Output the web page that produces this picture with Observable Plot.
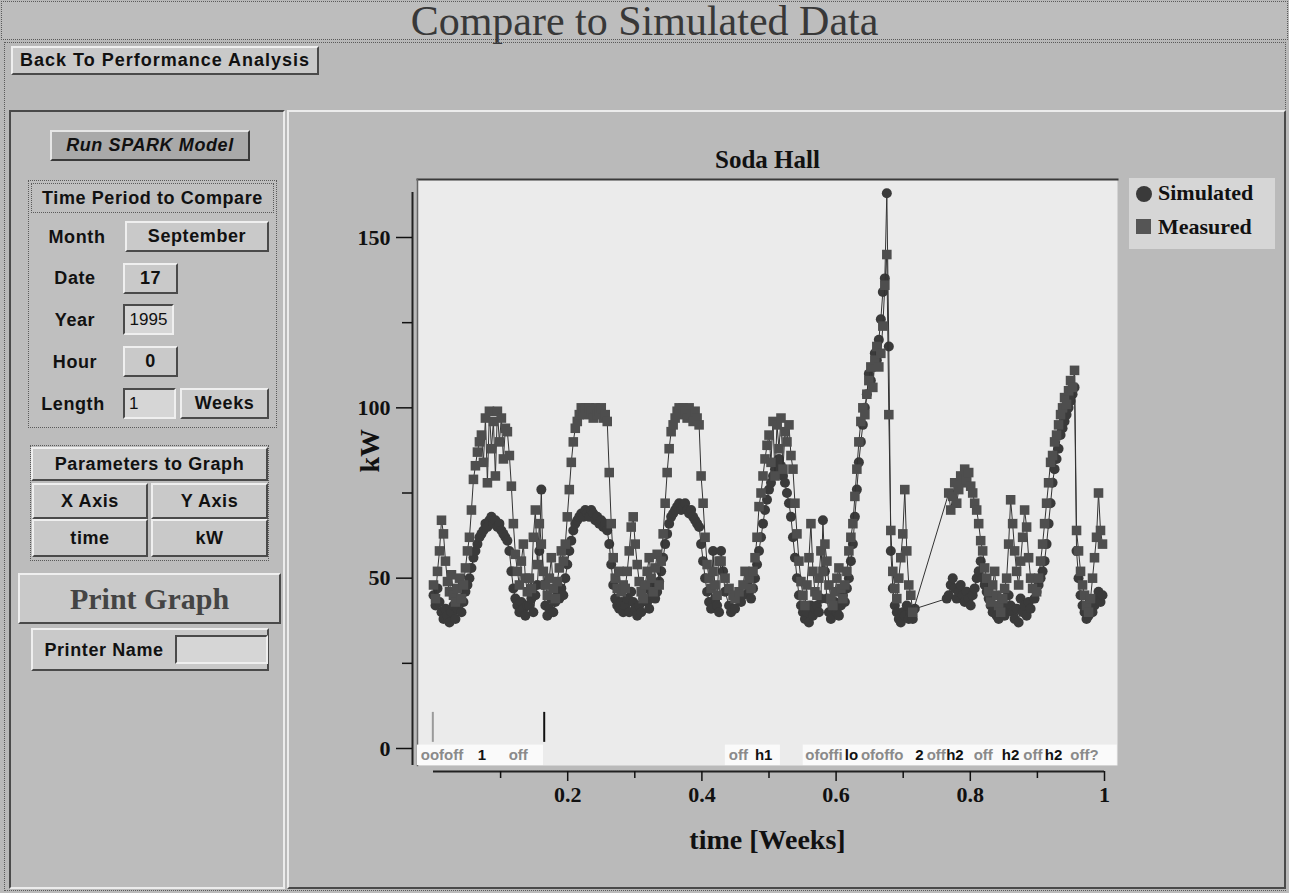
<!DOCTYPE html>
<html>
<head>
<meta charset="utf-8">
<script src="https://cdn.jsdelivr.net/npm/d3@7"></script>
<script src="https://cdn.jsdelivr.net/npm/@observablehq/plot@0.6"></script>
<style>
  html, body { margin: 0; padding: 0; }
  body {
    width: 1289px; height: 893px; position: relative; overflow: hidden;
    background: #b9b9b9; color: #111;
    font-family: "Liberation Sans", Arial, sans-serif;
  }
  .abs { position: absolute; box-sizing: border-box; }
  .raised { background: #c9c9c9; border: 2px solid; border-color: #efefef #4a4a4a #4a4a4a #efefef; }
  .sunken { background: #d6d6d6; border: 2px solid; border-color: #4a4a4a #efefef #efefef #4a4a4a; }
  .etched { border: 1px dotted #5a5a5a; }
  .lbl { display: flex; align-items: center; justify-content: center; font-weight: bold; font-size: 18px; letter-spacing: 0.6px; white-space: nowrap; }
  .serif { font-family: "Liberation Serif", "Times New Roman", serif; letter-spacing: 0; }
</style>
</head>
<body>

<!-- window title bar -->
<div class="abs etched lbl serif" style="left:1px;top:1px;width:1287px;height:39px;font-size:42px;font-weight:normal;color:#383838;background:#bdbdbd;">Compare to Simulated Data</div>

<!-- outer frame -->
<div class="abs etched" style="left:4px;top:42px;width:1282px;height:849px;"></div>
<div class="abs raised lbl" style="left:11px;top:46px;width:308px;height:29px;font-size:18px;letter-spacing:1px;">Back To Performance Analysis</div>

<!-- control panel -->
<div class="abs" style="left:9px;top:110px;width:276px;height:779px;border:2px solid;border-color:#4a4a4a #ececec #ececec #4a4a4a;background:#bcbcbc;"></div>
<div class="abs lbl" style="left:50px;top:130px;width:200px;height:31px;background:#a9a9a9;border:2px solid;border-color:#e6e6e6 #3a3a3a #3a3a3a #e6e6e6;font-style:italic;">Run SPARK Model</div>

<div class="abs etched" style="left:28px;top:180px;width:249px;height:248px;background:#bfbfbf;"></div>
<div class="abs etched lbl" style="left:31px;top:183px;width:243px;height:30px;">Time Period to Compare</div>

<div class="abs lbl" style="left:40px;top:222px;width:74px;height:30px;">Month</div>
<div class="abs raised lbl" style="left:125px;top:221px;width:144px;height:31px;">September</div>

<div class="abs lbl" style="left:40px;top:263px;width:70px;height:30px;">Date</div>
<div class="abs raised lbl" style="left:123px;top:263px;width:55px;height:31px;">17</div>

<div class="abs lbl" style="left:40px;top:305px;width:70px;height:30px;">Year</div>
<div class="abs sunken lbl" style="left:123px;top:304px;width:51px;height:31px;font-weight:normal;font-size:17px;letter-spacing:0;">1995</div>

<div class="abs lbl" style="left:40px;top:347px;width:70px;height:30px;">Hour</div>
<div class="abs raised lbl" style="left:123px;top:346px;width:55px;height:31px;">0</div>

<div class="abs lbl" style="left:40px;top:389px;width:66px;height:30px;">Length</div>
<div class="abs sunken lbl" style="left:123px;top:388px;width:53px;height:31px;font-weight:normal;font-size:17px;justify-content:flex-start;padding-left:4px;">1</div>
<div class="abs raised lbl" style="left:180px;top:388px;width:89px;height:31px;">Weeks</div>

<div class="abs etched" style="left:30px;top:445px;width:239px;height:116px;"></div>
<div class="abs raised lbl" style="left:31px;top:447px;width:237px;height:34px;">Parameters to Graph</div>
<div class="abs raised lbl" style="left:32px;top:483px;width:116px;height:36px;">X Axis</div>
<div class="abs raised lbl" style="left:151px;top:483px;width:117px;height:36px;">Y Axis</div>
<div class="abs raised lbl" style="left:32px;top:519px;width:116px;height:38px;">time</div>
<div class="abs raised lbl" style="left:151px;top:519px;width:117px;height:38px;">kW</div>

<div class="abs raised lbl serif" style="left:18px;top:573px;width:263px;height:51px;font-size:30px;color:#444;">Print Graph</div>
<div class="abs raised" style="left:31px;top:628px;width:238px;height:43px;"></div>
<div class="abs lbl" style="left:36px;top:636px;width:136px;height:28px;">Printer Name</div>
<div class="abs sunken" style="left:175px;top:635px;width:93px;height:29px;"></div>

<!-- chart panel -->
<div class="abs" style="left:287px;top:110px;width:999px;height:779px;border:2px solid;border-color:#ececec #4a4a4a #4a4a4a #ececec;background:#bababa;"></div>

<!-- legend -->
<div class="abs serif" style="left:1129px;top:178px;width:146px;height:71px;background:#d6d6d6;font-weight:bold;font-size:22px;">
  <div class="abs" style="left:7px;top:8px;width:16px;height:16px;border-radius:50%;background:#3a3a3a;"></div>
  <div class="abs" style="left:29px;top:2px;">Simulated</div>
  <div class="abs" style="left:7px;top:41px;width:15px;height:15px;background:#555;"></div>
  <div class="abs" style="left:29px;top:36px;">Measured</div>
</div>

<div id="chart" class="abs" style="left:288px;top:112px;"></div>

<script>
// Half-hourly demand over one week (7 x 48 readings), Soda Hall, from 17 September 1995.
// null marks readings that are missing; the connecting line jumps over them.
const simulatedKW = [
  // day 1
  45, 42, 47, 43, 40, 38, 41, 39, 37, 40, 42, 38, 41, 44, 40, 43, 46, 48,
  50, 53, 56, 58, 60, 62,
  63, 64, 66, 65, 67, 68, 66, 67, 65, 66, 64, 63, 62, 61,
  58, 52, 47, 44, 42, 40, 43, 41, 39, 42,
  // day 2
  42, 44, 40, 45, 48, 58, 76, 48, 42, 39, 41, 44, 40, 43, 46, 44, 47, 45,
  50, 54, 58, 61, 64, 66,
  67, 68, 69, 68, 70, 69, 68, 70, 69, 67, 68, 66, 67, 65, 66, 64,
  60, 54, 48, 44, 42, 41, 43, 40,
  // day 3
  42, 44, 40, 46, 43, 41, 39, 42, 40, 44, 47, 43, 41, 45, 48, 44, 46, 49,
  52, 56, 60, 63, 66, 68,
  69, 70, 71, 72, 70, 71, 72, 70, 69, 70, 68, 67, 66, 65,
  60, 55, 50, 46, 43, 41, 58, 44, 42, 40,
  // day 4
  58, 52, 46, null, 42, 40, null, 41, 44, null, 43, 45, null, 48, 46, 44, 47, 50,
  54, 58, 62, 66, 70, 73,
  76, 78, 80, 82, 84, 85, 83, 80, 78, 75, 72, 68,
  62, 56, 50, 45, 42, 40,
  38, 40, 37, 42, 39, 41,
  // day 5
  42, 40, 44, 67, 52, 44, 40, 38, 41, 43, 40, 39, 42, 45, 43, 47, 50, 55,
  60, 68, 76, 84, 90, 95,
  100, 104, 110, 108, 112, 116, 114, 120, 126, 134, 138, 163,
  118, 58, 47, 42, 40, 38, 37, 40, 39, 42, 38, 40,
  // day 6
  38, 41, null, null, null, null, null, null, null, null, null, null, null, null, null, null, null, 44,
  45, 48, 50, 47, 44, 46,
  48, 45, 43, 46, 44, 42, 45, 47, 50, 52,
  55, 50, 48, 46,
  44, 42, 40, 41, 39, 38, 40, 42, 39, 41,
  // day 7
  45, 42, 40, 38, 41, 37, 44, 40, 42, 39, 43, 41, null, 44, 46, 48, 50, 52,
  55, 60, 66, 72, 78, 82,
  85, 88, 92, 94, 96, 98, 100, 102, 104, 106,
  58, 50, 45, 42, 40, 38, 39, 41, 40, 42, 44, 46, 43, 45
];
const measuredKW = [
  // day 1
  48, 44, 52, 58, 67, 63, 55, 49, 46, 51, 45, 43, 47, 50, 44, 48, 53, 58,
  62, 70, 79, 83, 87, 90,
  92, 84, 97, 78, 99, 88, 96, 80, 99, 90, 97, 85, 94, 93,
  86, 77, 66, 57, 52, 48, 55, 60, 50, 46,
  // day 2
  50, 47, 62, 70, 54, 66, 60, 52, 48, 45, 50, 56, 47, 44, 49, 53, 58, 55,
  60, 68, 76, 84, 90, 94,
  96, 98, 100, 99, 100, 98, 100, 99, 97, 100, 98, 99, 100, 97, 98, 96,
  81, 66, 56, 50, 47, 52, 46, 48,
  // day 3
  47, 52, 58, 65, 68, 60, 54, 49, 46, 44, 48, 52, 56, 50, 46, 53, 57, 48,
  55, 63, 72, 81, 88, 93,
  95, 97, 99, 100, 98, 100, 99, 97, 100, 98, 96, 99, 97, 95,
  80, 72, 62, 54, 50, 47, 52, 48, 45, 55,
  // day 4
  55, null, 50, null, 47, null, 45, 44, null, 46, null, 48, 52, null, 50, 47, 52, 56,
  62, 71, 75, 80, 85, 89,
  92, 84, 96, 80, 95, 88, 97, 82, 93, 90, 95, 86,
  82, 72, 63, 55, 49, 45,
  42, 48, 56, 66, 52, 46,
  // day 5
  45, 50, 58, 52, 60, 55, 48, 44, 42, 46, 50, 53, 47, 44, 48, 52, 58, 62,
  66, 74, 82, 90, 96, 100,
  98, 104, 108, 112, 106, 114, 118, 112, 116, 124, 136, 145,
  98, 64, 52, 47, 44, 50, 56, 63, 76, 58, 48, 45,
  // day 6
  40, null, null, null, null, null, null, null, null, null, null, null, null, null, null, null, null, null,
  75, 70, 74, 78, 72, 76,
  80, 78, 82, 79, 81, 77, 75, 72, 70, 66,
  61, 58, 53, 50,
  46, 43, 48, 52, 45, 42, 40, 44, 47, 50,
  // day 7
  60, 73, 66, 58, 52, 48, 55, 62, 70, 65, 56, 50, 47, null, 46, 50, 55, 60,
  66, 72, 78, 84, 86, 90,
  92, 95, 98, 100, 103, 101, 105, 108, 106, 111,
  64, 58, 52, 48, 45, 42, 40, 44, 50, 56, 62, 75, 64, 60
];
const readingsPerWeek = 7 * 48;

// Axis ticks
const xTickValues = [0.2, 0.4, 0.6, 0.8, 1];
const xTickLabels = ["0.2", "0.4", "0.6", "0.8", "1"];
const xMinorTicks = [0.1, 0.3, 0.5, 0.7, 0.9];
const yTickValues = [0, 50, 100, 150];
const yMinorTicks = [25, 75, 125];

// Operating-schedule annotations along the bottom of the plot
const scheduleBands = [
  {t1: -0.024, t2: 0.164},
  {t1: 0.435, t2: 0.517},
  {t1: 0.551, t2: 1.019}
];
const scheduleText = [
  {t: -0.019, text: "oofoff", strong: false},
  {t: 0.066, text: "1", strong: true},
  {t: 0.112, text: "off", strong: false},
  {t: 0.440, text: "off", strong: false},
  {t: 0.479, text: "h1", strong: true},
  {t: 0.554, text: "ofoffi", strong: false},
  {t: 0.613, text: "lo", strong: true},
  {t: 0.637, text: "ofoffo", strong: false},
  {t: 0.718, text: "2", strong: true},
  {t: 0.735, text: "off", strong: false},
  {t: 0.764, text: "h2", strong: true},
  {t: 0.805, text: "off", strong: false},
  {t: 0.847, text: "h2", strong: true},
  {t: 0.879, text: "off", strong: false},
  {t: 0.911, text: "h2", strong: true},
  {t: 0.949, text: "off?", strong: false}
];
const scheduleMarkers = [
  {t: -0.001, strong: false},
  {t: 0.165, strong: true}
];

const toSeries = (values) => values
  .map((kW, i) => ({t: i / readingsPerWeek, kW}))
  .filter((d) => d.kW != null);
const simulated = toSeries(simulatedKW);
const measured = toSeries(measuredKW);

const serif = "'Liberation Serif', 'Times New Roman', serif";

const chart = Plot.plot({
  width: 997,
  height: 776,
  marginLeft: 129,
  marginRight: 168,
  marginTop: 67,
  marginBottom: 123,
  style: {fontFamily: serif, fontWeight: "bold", background: "transparent", color: "#111", overflow: "visible"},
  x: {domain: [0, 1], insetLeft: 16, insetRight: 13},
  y: {domain: [0, 150], insetTop: 58, insetBottom: 17},
  marks: [
    // plot box
    Plot.frame({fill: "#ebebeb", stroke: "none"}),
    Plot.frame({anchor: "top", stroke: "#3a3a3a", strokeWidth: 2}),
    Plot.frame({anchor: "left", stroke: "#666", strokeWidth: 1.5}),

    // axes
    Plot.ruleY([0], {x1: 0, x2: 1, dy: 23, stroke: "#222", strokeWidth: 2}),
    Plot.axisX(xTickValues, {anchor: "bottom", tickSize: 10, dy: 6, tickPadding: 5, fontSize: 22, tickFormat: (d, i) => xTickLabels[i], label: null, strokeWidth: 1.5}),
    Plot.axisX(xMinorTicks, {anchor: "bottom", tickSize: 7, dy: 6, tickFormat: () => "", label: null, strokeWidth: 1.5}),
    Plot.ruleX([0], {dx: -21, insetTop: 13, stroke: "#222", strokeWidth: 2}),
    Plot.axisY(yTickValues, {anchor: "left", tickSize: 16, dx: -5, tickPadding: 6, fontSize: 22, label: null, strokeWidth: 1.5}),
    Plot.axisY(yMinorTicks, {anchor: "left", tickSize: 10, dx: -5, tickFormat: () => "", label: null, strokeWidth: 1.5}),

    // titles
    Plot.text(["Soda Hall"], {frameAnchor: "top", dy: -29, fontSize: 25, fontWeight: "bold"}),
    Plot.text(["kW"], {frameAnchor: "left", dx: -47, rotate: -90, fontSize: 28, fontWeight: "bold"}),
    Plot.text(["time [Weeks]"], {frameAnchor: "bottom", dy: 83, fontSize: 28, fontWeight: "bold"}),

    // schedule strip
    Plot.rect(scheduleBands, {x1: "t1", x2: "t2", y1: -5, y2: 1, fill: "#fafafa"}),
    Plot.ruleX(scheduleMarkers, {x: "t", y1: 1.8, y2: 10.6, stroke: (d) => d.strong ? "#111" : "#9a9a9a", strokeWidth: 2}),
    Plot.text(scheduleText, {x: "t", y: -2, text: "text", textAnchor: "start", fontSize: 15,
      fontFamily: "'Liberation Sans', Arial, sans-serif",
      fontWeight: (d) => d.strong ? "bold" : "normal",
      fill: (d) => d.strong ? "#111" : "#8a8a8a"}),

    // series
    Plot.line(simulated, {x: "t", y: "kW", stroke: "#333", strokeWidth: 1}),
    Plot.dot(simulated, {x: "t", y: "kW", r: 5, fill: "#3a3a3a", stroke: "none"}),
    Plot.line(measured, {x: "t", y: "kW", stroke: "#333", strokeWidth: 1}),
    Plot.dot(measured, {x: "t", y: "kW", symbol: "square", r: 5.4, fill: "#4e4e4e", stroke: "none"})
  ]
});

document.getElementById("chart").appendChild(chart);
</script>
</body>
</html>
